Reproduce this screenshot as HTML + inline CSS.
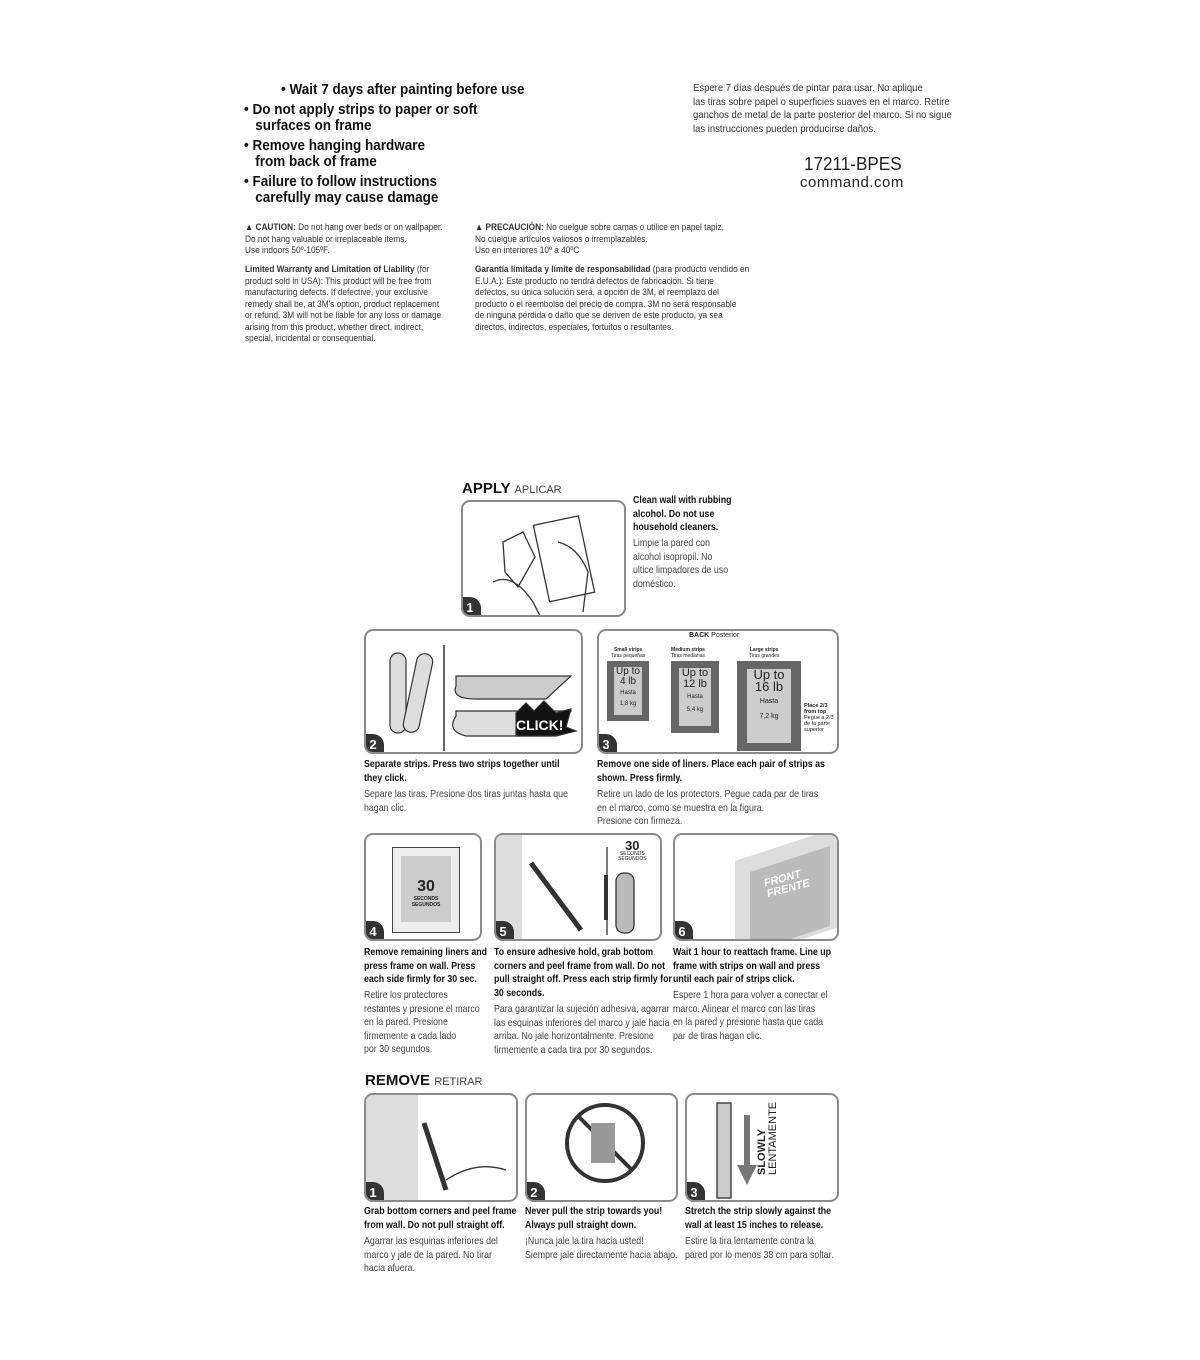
<!DOCTYPE html>
<html><head><meta charset="utf-8"><style>
body{margin:0;width:1200px;height:1360px;background:#fff;position:relative;font-family:"Liberation Sans Narrow","Liberation Sans",sans-serif;color:#222;overflow:hidden}
.a{position:absolute;white-space:nowrap}
.big{font-weight:bold;font-size:15px;line-height:16px;color:#111;transform:scaleX(.9);transform-origin:0 0}
.sm{font-size:9.5px;line-height:11.5px;color:#333;transform:scaleX(.87);transform-origin:0 0}
.cap{font-size:10.5px;line-height:13.5px;transform:scaleX(.84);transform-origin:0 0}
.cap b{color:#111}
.p{position:absolute;border:2px solid #8a8a8a;border-radius:9px;box-sizing:border-box;background:#fff;overflow:hidden}
.n{position:absolute;left:-4px;bottom:-4px;width:22px;height:22px;border-radius:0 11px 0 7px;background:#333;color:#fff;font:bold 13px "Liberation Sans",sans-serif;text-align:center;line-height:22px}
.h{font:bold 15px "Liberation Sans",sans-serif;color:#111}
.h span{font-weight:normal;font-size:11px;color:#444}
</style></head><body>

<div class="a big" style="left:281px;top:82px">• Wait 7 days after painting before use</div>
<div class="a big" style="left:244px;top:102px">• Do not apply strips to paper or soft<br>&nbsp;&nbsp;&nbsp;surfaces on frame</div>
<div class="a big" style="left:244px;top:138px">• Remove hanging hardware<br>&nbsp;&nbsp;&nbsp;from back of frame</div>
<div class="a big" style="left:244px;top:174px">• Failure to follow instructions<br>&nbsp;&nbsp;&nbsp;carefully may cause damage</div>

<div class="a sm" style="left:693px;top:82px;font-size:10px;line-height:13.5px;transform:scaleX(.95)">Espere 7 días después de pintar para usar. No aplique<br>las tiras sobre papel o superficies suaves en el marco. Retire<br>ganchos de metal de la parte posterior del marco. Si no sigue<br>las instrucciones pueden producirse daños.</div>
<div class="a" style="left:804px;top:154px;font:18px 'Liberation Sans',sans-serif;color:#222;transform:scaleX(.95);transform-origin:0 0">17211-BPES</div>
<div class="a" style="left:800px;top:174px;font:15px 'Liberation Sans',sans-serif;color:#222;letter-spacing:.5px">command.com</div>

<div class="a sm" style="left:245px;top:222px"><b>▲ CAUTION:</b> Do not hang over beds or on wallpaper.<br>Do not hang valuable or irreplaceable items.<br>Use indoors 50º-105ºF.</div>
<div class="a sm" style="left:245px;top:264px"><b>Limited Warranty and Limitation of Liability</b> (for<br>product sold in USA): This product will be free from<br>manufacturing defects. If defective, your exclusive<br>remedy shall be, at 3M's option, product replacement<br>or refund. 3M will not be liable for any loss or damage<br>arising from this product, whether direct, indirect,<br>special, incidental or consequential.</div>
<div class="a sm" style="left:475px;top:222px"><b>▲ PRECAUCIÓN:</b> No cuelgue sobre camas o utilice en papel tapiz.<br>No cuelgue artículos valiosos o irremplazables.<br>Uso en interiores 10º a 40ºC</div>
<div class="a sm" style="left:475px;top:264px"><b>Garantía limitada y límite de responsabilidad</b> (para producto vendido en<br>E.U.A.): Este producto no tendrá defectos de fabricación. Si tiene<br>defectos, su única solución será, a opción de 3M, el reemplazo del<br>producto o el reembolso del precio de compra. 3M no será responsable<br>de ninguna pérdida o daño que se deriven de este producto, ya sea<br>directos, indirectos, especiales, fortuitos o resultantes.</div>

<div class="a h" style="left:462px;top:480px">APPLY <span>APLICAR</span></div>
<div class="p" style="left:461px;top:500px;width:165px;height:117px">
<svg width="165" height="117" style="position:absolute;left:0;top:0" fill="none" stroke="#333" stroke-width="1.3"><path d="M40 40 L60 30 L72 55 L55 85 L42 70Z"/><rect x="78" y="18" width="46" height="78" transform="rotate(-12 100 57)"/><path d="M95 40 q20 5 30 30 l-5 40 M30 80 q20 -10 40 20 l10 20"/></svg>
<div class="n">1</div></div>
<div class="a cap" style="left:633px;top:494px"><b>Clean wall with rubbing<br>alcohol. Do not use<br>household cleaners.</b></div>
<div class="a cap" style="left:633px;top:537px;color:#444">Limpie la pared con<br>alcohol isopropil. No<br>ultice limpadores de uso<br>doméstico.</div>

<div class="p" style="left:364px;top:629px;width:219px;height:125px">
<svg width="219" height="125" style="position:absolute;left:0;top:0" fill="none" stroke="#333" stroke-width="1.2"><rect x="24" y="22" width="16" height="80" rx="8" fill="#ddd"/><rect x="44" y="22" width="16" height="80" rx="8" fill="#ddd" transform="rotate(12 52 62)"/><line x1="78" y1="14" x2="78" y2="120" stroke-width="1.5"/><path d="M90 45 L205 45 L180 68 L110 68 Q85 68 90 55Z" fill="#ccc"/><path d="M90 80 L205 80 L185 105 L100 105 Q80 100 90 85Z" fill="#ddd"/><polygon points="150,82 160,72 168,80 178,70 190,82 205,78 200,96 210,100 190,105 150,105" fill="#111"/><text x="150" y="99" fill="#fff" stroke="none" font-family="Liberation Sans" font-weight="bold" font-size="14">CLICK!</text></svg>
<div class="n">2</div></div>
<div class="p" style="left:597px;top:629px;width:242px;height:125px">
<div class="a" style="left:90px;top:1px;font:7px 'Liberation Sans'"><b>BACK</b> Posterior</div>
<div class="a" style="left:12px;top:16px;font:5px 'Liberation Sans';text-align:center"><b>Small strips</b><br>Tiras pequeñas</div>
<div class="a" style="left:72px;top:16px;font:5px 'Liberation Sans';text-align:center"><b>Medium strips</b><br>Tiras medianas</div>
<div class="a" style="left:150px;top:16px;font:5px 'Liberation Sans';text-align:center"><b>Large strips</b><br>Tiras grandes</div>
<div class="a" style="left:8px;top:30px;width:42px;height:60px;background:#666"><div style="margin:6px 7px;height:48px;background:#ccc;font:10px 'Liberation Sans';text-align:center;line-height:10px">Up to<br>4 lb<br><span style="font-size:6px">Hasta<br>1,8 kg</span></div></div>
<div class="a" style="left:72px;top:30px;width:48px;height:72px;background:#666"><div style="margin:7px 8px;height:58px;background:#ccc;font:11px 'Liberation Sans';text-align:center;line-height:11px">Up to<br>12 lb<br><span style="font-size:6px">Hasta<br>5,4 kg</span></div></div>
<div class="a" style="left:138px;top:30px;width:64px;height:90px;background:#666"><div style="margin:8px 10px;height:74px;background:#ccc;font:13px 'Liberation Sans';text-align:center;line-height:12px">Up to<br>16 lb<br><span style="font-size:7px">Hasta<br>7,2 kg</span></div></div>
<div class="a" style="left:205px;top:72px;font:bold 5.5px 'Liberation Sans'">Place 2/3<br>from top<br><span style="font-weight:normal">Pegue a 2/3<br>de la parte<br>superior</span></div>
<div class="n">3</div></div>
<div class="a cap" style="left:364px;top:758px"><b>Separate strips. Press two strips together until<br>they click.</b></div>
<div class="a cap" style="left:364px;top:788px;color:#444">Separe las tiras. Presione dos tiras juntas hasta que<br>hagan clic.</div>
<div class="a cap" style="left:597px;top:758px"><b>Remove one side of liners. Place each pair of strips as<br>shown. Press firmly.</b></div>
<div class="a cap" style="left:597px;top:788px;color:#444">Retire un lado de los protectors. Pegue cada par de tiras<br>en el marco, como se muestra en la figura.<br>Presione con firmeza.</div>

<div class="p" style="left:364px;top:833px;width:118px;height:108px">
<div class="a" style="left:26px;top:12px;width:68px;height:86px;border:1.5px solid #444;box-sizing:border-box;background:#eee"><div style="margin:8px;height:66px;background:#ccc;text-align:center;font:bold 16px 'Liberation Sans';padding-top:22px;box-sizing:border-box">30<div style="font-size:5px;line-height:6px">SECONDS<br>SEGUNDOS</div></div></div>
<div class="n">4</div></div>
<div class="p" style="left:494px;top:833px;width:168px;height:108px">
<div class="a" style="left:0;top:0;width:26px;height:108px;background:#ddd"></div>
<svg width="168" height="108" style="position:absolute;left:0;top:0" fill="none" stroke="#333" stroke-width="1.3"><path d="M35 28 L85 95" stroke-width="5"/><line x1="111" y1="12" x2="111" y2="100"/><rect x="120" y="38" width="18" height="60" rx="8" fill="#bbb"/><path d="M110 40 v45" stroke-width="4"/></svg>
<div class="a" style="left:122px;top:5px;font:bold 13px 'Liberation Sans';text-align:center;line-height:12px">30<div style="font-size:5px;line-height:5px;font-weight:normal">SECONDS<br>SEGUNDOS</div></div>
<div class="n">5</div></div>
<div class="p" style="left:673px;top:833px;width:166px;height:108px">
<div class="a" style="left:60px;top:8px;width:110px;height:100px;background:#ddd;transform:skewY(-18deg)"></div>
<div class="a" style="left:75px;top:24px;width:80px;height:80px;background:#bbb;transform:skewY(-18deg)"></div>
<div class="a" style="left:90px;top:38px;font:bold italic 11px 'Liberation Sans';color:#fff;transform:rotate(-15deg);line-height:11px">FRONT<br>FRENTE</div>
<div class="n">6</div></div>
<div class="a cap" style="left:364px;top:946px"><b>Remove remaining liners and<br>press frame on wall. Press<br>each side firmly for 30 sec.</b></div>
<div class="a cap" style="left:364px;top:989px;color:#444">Retire los protectores<br>restantes y presione el marco<br>en la pared. Presione<br>firmemente a cada lado<br>por 30 segundos.</div>
<div class="a cap" style="left:494px;top:946px"><b>To ensure adhesive hold, grab bottom<br>corners and peel frame from wall. Do not<br>pull straight off. Press each strip firmly for<br>30 seconds.</b></div>
<div class="a cap" style="left:494px;top:1003px;color:#444">Para garantizar la sujeción adhesiva, agarrar<br>las esquinas inferiores del marco y jale hacia<br>arriba. No jale horizontalmente. Presione<br>firmemente a cada tira por 30 segundos.</div>
<div class="a cap" style="left:673px;top:946px"><b>Wait 1 hour to reattach frame. Line up<br>frame with strips on wall and press<br>until each pair of strips click.</b></div>
<div class="a cap" style="left:673px;top:989px;color:#444">Espere 1 hora para volver a conectar el<br>marco. Alinear el marco con las tiras<br>en la pared y presione hasta que cada<br>par de tiras hagan clic.</div>

<div class="a h" style="left:365px;top:1072px">REMOVE <span>RETIRAR</span></div>
<div class="p" style="left:364px;top:1093px;width:154px;height:109px">
<div class="a" style="left:0;top:0;width:52px;height:109px;background:#ddd"></div>
<svg width="154" height="109" style="position:absolute;left:0;top:0" fill="none" stroke="#333" stroke-width="1.3"><path d="M58 28 L80 95" stroke-width="5"/><path d="M80 85 q30 -20 60 -10"/></svg>
<div class="n">1</div></div>
<div class="p" style="left:525px;top:1093px;width:153px;height:109px">
<svg width="153" height="109" style="position:absolute;left:0;top:0" fill="none" stroke="#333"><circle cx="78" cy="48" r="38" stroke-width="4"/><line x1="52" y1="22" x2="104" y2="74" stroke-width="4"/><rect x="64" y="28" width="24" height="40" fill="#999" stroke="none"/></svg>
<div class="n">2</div></div>
<div class="p" style="left:685px;top:1093px;width:154px;height:109px">
<svg width="154" height="109" style="position:absolute;left:0;top:0" fill="none" stroke="#333" stroke-width="1.3"><rect x="30" y="8" width="14" height="95" fill="#ccc"/><line x1="60" y1="20" x2="60" y2="70" stroke="#777" stroke-width="6"/><polygon points="50,70 70,70 60,90" fill="#777" stroke="none"/></svg>
<div class="a" style="left:70px;top:80px;font:bold 11px 'Liberation Sans';transform:rotate(-90deg);transform-origin:0 0;line-height:11px">SLOWLY<br><span style="font-weight:normal">LENTAMENTE</span></div>
<div class="n">3</div></div>
<div class="a cap" style="left:364px;top:1205px"><b>Grab bottom corners and peel frame<br>from wall. Do not pull straight off.</b></div>
<div class="a cap" style="left:364px;top:1235px;color:#444">Agarrar las esquinas inferiores del<br>marco y jale de la pared. No tirar<br>hacia afuera.</div>
<div class="a cap" style="left:525px;top:1205px"><b>Never pull the strip towards you!<br>Always pull straight down.</b></div>
<div class="a cap" style="left:525px;top:1235px;color:#444">¡Nunca jale la tira hacia usted!<br>Siempre jale directamente hacia abajo.</div>
<div class="a cap" style="left:685px;top:1205px"><b>Stretch the strip slowly against the<br>wall at least 15 inches to release.</b></div>
<div class="a cap" style="left:685px;top:1235px;color:#444">Estire la tira lentamente contra la<br>pared por lo menos 38 cm para soltar.</div>
</body></html>
